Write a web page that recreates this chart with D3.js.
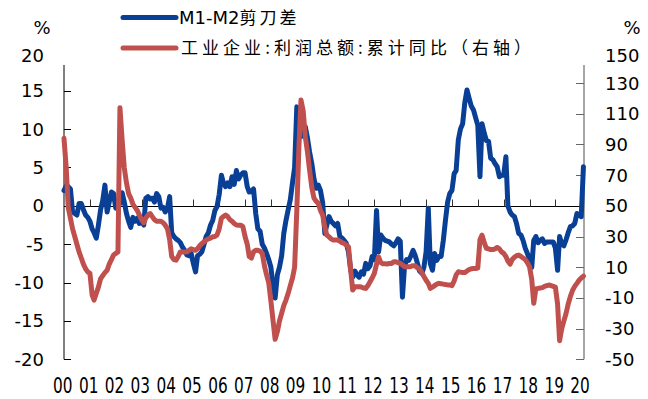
<!DOCTYPE html>
<html>
<head>
<meta charset="utf-8">
<script src="https://cdn.jsdelivr.net/npm/d3@7"></script>
<style>
  body { margin: 0; background: #fff; }
  svg { display: block; }
</style>
</head>
<body>
<svg id="chart" width="648" height="399"></svg>
<script>
// 月度数据，起点 2000-01
const startYear = 2000;

// M1-M2 剪刀差 (%)，左轴
const m1m2 = [
  2.0, 2.6, 2.5, 2.2, -0.8, -1.0, -1.2, 0.3, 0.3, -0.5,
  -1.2, -1.5, -2.0, -3.0, -3.5, -4.2, -2.5, -0.5, 0.7, 2.7,
  -0.8, 0.5, 1.8, 1.6, -0.3, 0.2, 0.3, 1.7, 0.5, -1.0,
  -2.0, -2.8, -1.5, -2.0, -1.6, -2.3, -2.0, -2.5, 1.0, 1.2,
  0.9, 1.0, 0.5, 1.6, 1.2, -0.3, -0.2, -0.8, -0.3, 1.2,
  -3.5, -4.0, -4.3, -4.5, -4.8, -5.4, -5.8, -6.4, -6.5, -6.2,
  -7.5, -8.6, -6.5, -6.3, -6.0, -5.0, -4.0, -3.5, -2.5, -1.9,
  -0.6, -0.1, 1.5, 4.0, 3.0, 2.5, 3.0, 2.5, 3.8, 2.8,
  4.6, 3.5, 4.0, 4.3, 4.3, 2.5, 1.8, 1.9, 2.2, -1.0,
  -3.0, -3.3, -5.0, -5.5, -6.2, -7.0, -8.0, -10.6, -12.0, -9.0,
  -8.0, -6.5, -3.6, -1.9, -0.5, 0.8, 3.0, 5.0, 12.9, 12.6,
  9.0, 10.0, 10.3, 8.8, 7.0, 5.5, 3.5, 2.3, 2.7, 2.0,
  0.4, -3.6, -2.5, -1.4, -2.0, -2.3, -2.6, -2.3, -4.0, -4.2,
  -4.5, -4.9, -6.0, -8.4, -9.3, -8.5, -9.0, -9.3, -8.6, -8.9,
  -7.5, -8.2, -7.8, -6.6, -7.0, -0.6, -6.0, -3.8, -4.2, -4.5,
  -4.6, -4.7, -5.0, -5.2, -4.8, -4.3, -4.6, -11.9, -8.0, -7.0,
  -7.1, -6.5, -5.8, -6.5, -7.5, -8.5, -8.8, -8.0, -6.0, -0.3,
  -7.5, -8.4, -6.2, -7.1, -6.6, -6.6, -4.5, -1.9, 0.5, 1.6,
  2.0, 4.2, 4.6, 8.6, 10.0, 10.7, 13.4, 15.1, 14.0, 13.0,
  12.5, 11.5, 10.5, 3.8, 10.7, 9.5, 8.5, 8.4, 6.2, 6.0,
  5.5, 5.1, 3.8, 4.0, 4.0, 6.4, 0.0, -0.8, -1.2, -1.4,
  -2.3, -3.6, -3.8, -4.5, -5.5, -6.2, -7.0, -8.0, -4.5, -4.0,
  -4.8, -4.5, -4.3, -4.9, -4.7, -4.7, -4.7, -4.7, -5.5, -8.4,
  -4.0, -5.0, -5.2, -4.4, -3.5, -2.7, -2.6, -2.3, -1.0, -1.2,
  -1.4, 5.1
];

// 工业企业:利润总额:累计同比 (%)，右轴
const profit = [
  94, 75, 49, 42, 35, 30, 25, 20, 16, 12,
  9, 7, 6, -8, -11.4, -7, -3, 2.5, 4.5, 6.5,
  8, 12, 15, 18, 19, 20, 114, 93, 75, 65,
  58, 55, 51, 49, 47, 44, 41, 39, 42, 44,
  45, 43, 41, 40, 40, 40, 39, 37.4, 35, 28,
  17, 15, 14.6, 17, 20, 20, 20, 20, 21, 22,
  21.5, 21, 22, 24, 25.5, 26.5, 27.7, 28.5, 29, 29.8,
  30, 31, 35, 42, 43, 44, 43, 41, 40, 38.5,
  37.5, 37.4, 37.4, 36.5, 30, 25, 17, 16, 20, 21,
  21, 20.5, 19, 11, 5, 0, -12, -25, -37, -32,
  -25, -20, -15, -11.4, -7, -2, 3, 10, 47, 90,
  119, 112, 95, 85, 73, 62, 55, 53, 51.6, 47,
  44, 36, 31, 29.8, 28.5, 27.7, 27.7, 27.7, 27, 26,
  25.5, 24.5, 23.3, 8, -4.9, -2.7, -2.7, -2.7, -2.9, -3.5,
  -3.8, -2, 0.5, 3, 6, 12, 16.8, 13, 12.3, 12.2,
  12.1, 12.5, 12.5, 13.5, 13.5, 13, 12.5, 11.5, 10.3, 10.3,
  10.3, 10.5, 11, 11, 9.5, 9, 6.5, 4, 1.5, -0.5,
  -3.8, -3, -2, -1, -0.5, -0.8, -1.0, -1.3, -1.5, -1.5,
  -2, 1, 5, 7, 6.8, 6.5, 6.5, 7.5, 8.5, 9,
  9.2, 9.2, 9.5, 28, 30.9, 26, 22.3, 22, 21.5, 21.5,
  22, 22.9, 22, 20, 19, 17, 14, 12, 15, 16.5,
  17.5, 17.9, 17, 16, 15, 13, 10.3, 2, -13.5, -4,
  -3.8, -3.5, -3.3, -2.5, -2, -1.6, -2, -2.5, -3, -14,
  -37.9, -30, -25, -20, -14, -9, -5, -2.5, -0.5, 1.5,
  3, 4.2
];

const yearLabels = ['00','01','02','03','04','05','06','07','08','09','10',
  '11','12','13','14','15','16','17','18','19','20'];
const leftTicks = [-20, -15, -10, -5, 0, 5, 10, 15, 20];
const rightTicks = [-50, -30, -10, 10, 30, 50, 70, 90, 110, 130, 150];

const seriesNames = ['M1-M2剪刀差', '工业企业:利润总额:累计同比（右轴）'];
const blue = '#0a3f96';
const red = '#c0504d';

const svg = d3.select('#chart');
const font = 'DejaVu Sans, Noto Sans CJK SC, sans-serif';

const plot = { left: 64, right: 584, top: 52.4, bottom: 359.3, axisTop: 65 };

// 时间轴
const xScale = d3.scaleTime()
  .domain([new Date(startYear, 0, 1), new Date(2020, 1, 9)])
  .range([plot.left, plot.right]);

// 左轴
const yLeft = d3.scaleLinear()
  .domain([-20, 20])
  .range([plot.bottom, plot.top]);

// 右轴
const yRight = d3.scaleLinear()
  .domain([-50, 150])
  .range([plot.bottom, plot.top]);

const monthDate = i => new Date(startYear, i, 1);

//
// 左轴线 + 刻度
//
svg.append('line')
  .attr('x1', plot.left).attr('x2', plot.left)
  .attr('y1', plot.axisTop).attr('y2', plot.bottom)
  .attr('stroke', '#000').attr('stroke-width', 1);

svg.selectAll('.ltick')
  .data(leftTicks.filter(d => d < 20))
  .enter()
  .append('line')
  .attr('x1', plot.left).attr('x2', plot.left + 7)
  .attr('y1', d => Math.round(yLeft(d)) + 0.5)
  .attr('y2', d => Math.round(yLeft(d)) + 0.5)
  .attr('stroke', '#000');

svg.selectAll('.llabel')
  .data(leftTicks)
  .enter()
  .append('text')
  .attr('x', 44)
  .attr('y', d => yLeft(d) + (d === 20 ? 3 : 0))
  .attr('dy', '0.36em')
  .attr('text-anchor', 'end')
  .attr('font-family', font)
  .attr('font-size', 18)
  .attr('fill', '#000')
  .text(d => d);

//
// 右轴线 + 刻度
//
svg.append('line')
  .attr('x1', plot.right).attr('x2', plot.right)
  .attr('y1', plot.axisTop).attr('y2', plot.bottom)
  .attr('stroke', '#888').attr('stroke-width', 1.5);

svg.selectAll('.rtick')
  .data(rightTicks.filter(d => d < 150))
  .enter()
  .append('line')
  .attr('x1', plot.right - 8).attr('x2', plot.right)
  .attr('y1', d => Math.round(yRight(d)) + 0.5)
  .attr('y2', d => Math.round(yRight(d)) + 0.5)
  .attr('stroke', '#666');

svg.selectAll('.rlabel')
  .data(rightTicks)
  .enter()
  .append('text')
  .attr('x', 605)
  .attr('y', d => yRight(d) + (d === 150 ? 3 : 0))
  .attr('dy', '0.36em')
  .attr('text-anchor', 'start')
  .attr('font-family', font)
  .attr('font-size', 18)
  .attr('fill', '#000')
  .text(d => d);

// 单位
svg.append('text').attr('x', 42).attr('y', 34).attr('text-anchor', 'middle')
  .attr('font-family', font).attr('font-size', 18).text('%');
svg.append('text').attr('x', 632).attr('y', 34).attr('text-anchor', 'middle')
  .attr('font-family', font).attr('font-size', 18).text('%');

//
// 零线 + 年度刻度
//
const zeroY = Math.round(yLeft(0)) + 0.5;
svg.append('line')
  .attr('x1', plot.left).attr('x2', plot.right)
  .attr('y1', zeroY).attr('y2', zeroY)
  .attr('stroke', '#000');

const years = d3.timeYear.range(new Date(startYear + 1, 0, 1), new Date(2021, 0, 1));
svg.selectAll('.xtick')
  .data(years)
  .enter()
  .append('line')
  .attr('x1', d => Math.round(xScale(d)) + 0.5)
  .attr('x2', d => Math.round(xScale(d)) + 0.5)
  .attr('y1', zeroY - 7).attr('y2', zeroY)
  .attr('stroke', '#333');

svg.selectAll('.xlabel')
  .data(yearLabels)
  .enter()
  .append('text')
  .attr('x', (d, i) => xScale(new Date(startYear + i, 0, 1)) - 11)
  .attr('y', 393)
  .attr('font-family', font)
  .attr('font-size', 21)
  .attr('textLength', 19.5)
  .attr('lengthAdjust', 'spacingAndGlyphs')
  .attr('fill', '#000')
  .text(d => d);

//
// 折线
//
const blueLine = d3.line()
  .x((d, i) => xScale(monthDate(i)))
  .y(d => yLeft(d));

const redLine = d3.line()
  .x((d, i) => xScale(monthDate(i)))
  .y(d => yRight(d));

svg.append('path')
  .datum(m1m2)
  .attr('d', blueLine)
  .attr('fill', 'none')
  .attr('stroke', blue)
  .attr('stroke-width', 5)
  .attr('stroke-linejoin', 'round')
  .attr('stroke-linecap', 'round');

svg.append('path')
  .datum(profit)
  .attr('d', redLine)
  .attr('fill', 'none')
  .attr('stroke', red)
  .attr('stroke-width', 5)
  .attr('stroke-linejoin', 'round')
  .attr('stroke-linecap', 'round');

//
// 图例
//
const legend = svg.append('g');
[[blue, 17.5], [red, 48]].forEach(([c, y], i) => {
  legend.append('line')
    .attr('x1', 123).attr('x2', 176)
    .attr('y1', y).attr('y2', y)
    .attr('stroke', c).attr('stroke-width', 5)
    .attr('stroke-linecap', 'round');
});

const t1 = legend.append('text')
  .attr('x', 179).attr('y', 17.5).attr('dy', '0.36em')
  .attr('font-family', font).attr('font-size', 18).attr('fill', '#000');
t1.append('tspan').text('M1-M2');
t1.append('tspan').attr('font-family', 'Noto Sans CJK SC').attr('font-size', 17)
  .attr('letter-spacing', 3).text('剪刀差');

legend.append('text')
  .attr('x', 181).attr('y', 48).attr('dy', '0.36em')
  .attr('font-family', 'Noto Sans CJK SC, sans-serif')
  .attr('font-size', 17)
  .attr('textLength', 350)
  .attr('lengthAdjust', 'spacing')
  .attr('fill', '#000')
  .text(seriesNames[1]);
</script>
</body>
</html>
